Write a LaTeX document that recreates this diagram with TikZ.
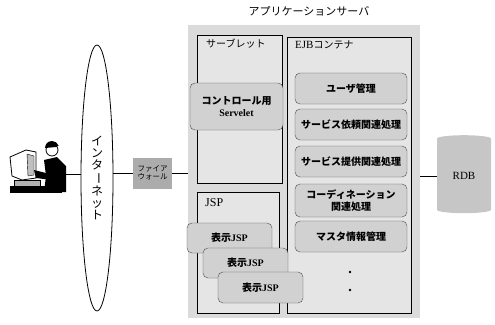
\documentclass[tikz,border=0pt]{standalone}
\usepackage{fontspec}
\setmainfont{Liberation Serif}
\newfontfamily\jp{Noto Sans CJK JP}
\newcommand{\ja}[1]{{\jp #1}}
\usetikzlibrary{shapes.geometric}

\begin{document}
\begin{tikzpicture}
		[x=1pt,y=-1pt,
		box1/.style={rectangle,draw=black,fill=gray!20,semithick,inner sep=0pt},
		box2/.style={rectangle,rounded corners=5pt,draw=black!70,fill=gray!36,thin,
inner sep=0pt,minimum width=112pt,font=\fontsize{10}{11.5}\selectfont\bfseries,align=center},
		textstyle/.style={inner sep=0pt,anchor=west},
		edgestyle/.style={-,semithick}]
		\useasboundingbox (0,0) rectangle (495,324);
		% application server and its containers
		\node at (304,171.5) (srv) [rectangle,fill=gray!28,minimum width=232pt,minimum height=293pt] {};
		\node at (309,11) (title) [font=\jp\fontsize{11}{11}\selectfont] {アプリケーションサーバ};
		\node at (239.5,109) (svl) [box1,minimum width=85pt,minimum height=148pt] {};
		\node at (238,252.5) (jsp) [box1,minimum width=82pt,minimum height=121pt] {};
		\node at (349,175) (ejb) [box1,minimum width=124pt,minimum height=276pt] {};
		\node at (206,44) (svllabel) [textstyle,font=\jp\fontsize{10}{10}\selectfont] {サーブレット};
		\node at (205,203) (jsplabel) [textstyle,font=\fontsize{12}{12}\selectfont] {JSP};
		\node at (295,45) (ejblabel) [textstyle,font=\fontsize{11}{11}\selectfont] {EJB\ja{\fontsize{10}{10}\selectfont コンテナ}};
		% servlet and jsp parts
		\node at (236.5,106.5) (ctl) [box2,minimum width=93pt,minimum height=47pt] {\ja{コントロール用}\\Servelet};
		\node at (229.5,238) (view1) [box2,minimum width=85pt,minimum height=30pt] {\ja{表示}JSP};
		\node at (245.5,263) (view2) [box2,minimum width=85pt,minimum height=30pt] {\ja{表示}JSP};
		\node at (260.5,287.5) (view3) [box2,minimum width=85pt,minimum height=31pt] {\ja{表示}JSP};
		% ejb parts
		\node at (351,88.5) (user) [box2,minimum height=31pt] {\ja{ユーザ管理}};
		\node at (351,124.5) (req) [box2,minimum height=31pt] {\ja{サービス依頼関連処理}};
		\node at (351,161.5) (offer) [box2,minimum height=31pt] {\ja{サービス提供関連処理}};
		\node at (351,200.5) (coord) [box2,minimum height=33pt] {\ja{コーディネーション}\\\ja{関連処理}};
		\node at (351,236.5) (master) [box2,minimum height=31pt] {\ja{マスタ情報管理}};
		\fill (350,272) circle (1.3pt);
		\fill (350,290) circle (1.3pt);
		% client side, the network name set top to bottom
		\node at (97,178) (net) [ellipse,draw,thick,minimum width=32pt,minimum height=266pt,
inner sep=0pt,align=center,font=\jp\fontsize{12}{12}\selectfont]
			{イ\\ン\\タ\\\rotatebox[origin=c]{-90}{ー}\\ネ\\ッ\\ト};
		\node at (152.5,173) (fw) [rectangle,fill=gray!65,minimum width=39pt,minimum height=31pt,
inner sep=0pt,align=center,font=\jp\fontsize{7.5}{8.5}\selectfont] {ファイア\\ウォール};
		\node at (464,176) (rdb) [cylinder,shape border rotate=90,aspect=0.3,fill=gray!45,
minimum width=54pt,minimum height=78pt,inner sep=0pt,font=\fontsize{11}{11}\selectfont] {RDB};
		% user at the terminal
		\node at (38,167) (pc) [minimum width=58pt,minimum height=54pt,inner sep=0pt] {};
		\filldraw [fill=white,thick] (10,157) -- (26,150) -- (36,152) -- (36,178) -- (22,180) -- (12,176) -- cycle;
		\filldraw [fill=gray!50] (27,154) -- (34,156) -- (34,175) -- (28,176) -- cycle;
		\filldraw [fill=gray!60] (14,180) rectangle (40,186);
		\fill (10,186) rectangle (62,193);
		\fill (34,170) -- (50,174) -- (52,180) -- (36,178) -- cycle;
		\fill (44,160) -- (57,157) -- (66,166) -- (66,192) -- (44,192) -- (46,176) -- cycle;
		\filldraw [fill=white,thick] (52,150) circle (6pt);
		\fill (45,148) arc (180:20:7pt) -- (56,147) -- cycle;
		\coordinate (pcport) at (66,174);
		% links
		\draw [edgestyle] (pcport) -- (pcport -| net.west);
		\draw [edgestyle] (fw.west) -- (fw.west -| net.east);
		\draw [edgestyle] (fw.east) -- (fw.east -| srv.west);
		\draw [edgestyle] (rdb.west) -- (rdb.west -| srv.east);
	\end{tikzpicture}
\end{document}
